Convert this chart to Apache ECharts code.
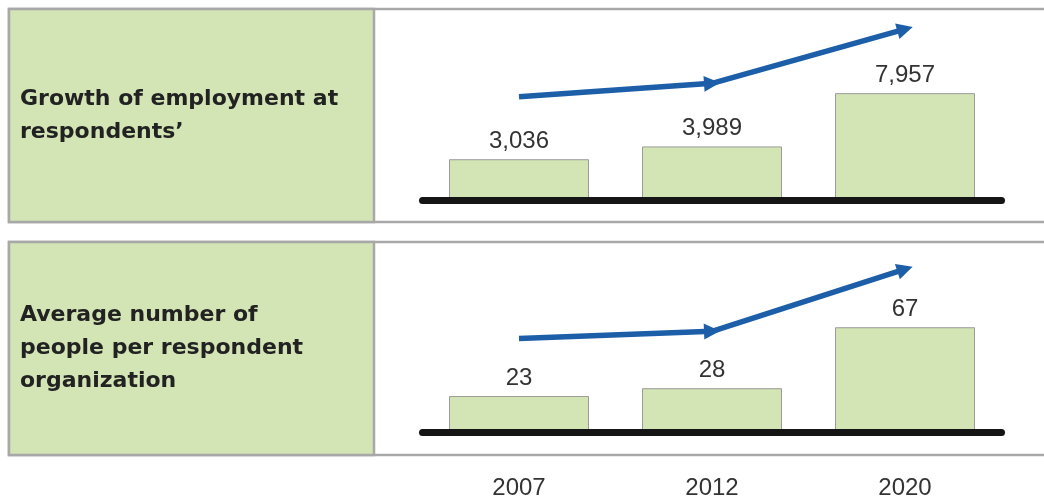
<!DOCTYPE html>
<html>
<head>
<meta charset="utf-8">
<script src="https://cdn.jsdelivr.net/npm/echarts@6/dist/echarts.min.js"></script>
<style>
  html, body { margin: 0; padding: 0; background: #fff; }
  #chart { width: 1044px; height: 500px; }
</style>
</head>
<body>
<div id="chart"></div>
<script>
const years = ['2007', '2012', '2020']
const employment = [3036, 3989, 7957]
const avgPeople = [23, 28, 67]
// trend arrow levels (in each panel's value units)
const employmentArrow = [7690, 8690, 12730]
const avgPeopleArrow = [59.8, 64.4, 104.1]
const panelTitles = [
  'Growth of employment at\nrespondents\u2019',
  'Average number of\npeople per respondent\norganization'
]

const green = '#d3e5b4'
const frame = '#a8a8a8'
const arrowBlue = '#1c5ea8'

const chart = echarts.init(document.getElementById('chart'))

const arrowLines = levels => [
  [{ coord: [years[0], levels[0]] }, { coord: [years[1], levels[1]] }],
  [{ coord: [years[1], levels[1]] }, { coord: [years[2], levels[2]] }]
]

const panel = (top, height, text) => ({
  type: 'group',
  children: [
    {
      type: 'rect',
      shape: { x: 9, y: top, width: 1050, height: height },
      style: { fill: '#fff', stroke: frame, lineWidth: 2.5 }
    },
    {
      type: 'rect',
      shape: { x: 9, y: top, width: 365, height: height },
      style: { fill: green, stroke: frame, lineWidth: 2.5 }
    },
    {
      type: 'text',
      x: 20,
      y: top + height / 2,
      style: {
        text: text,
        fill: '#222',
        font: 'bold 22px "DejaVu Sans"',
        lineHeight: 33,
        verticalAlign: 'middle'
      }
    }
  ]
})

const barSeries = (idx, data, arrows) => ({
  type: 'bar',
  xAxisIndex: idx,
  yAxisIndex: idx,
  data: data,
  barWidth: 140,
  itemStyle: { color: green, borderColor: '#9a9a9a', borderWidth: 1 },
  label: {
    show: true,
    position: 'top',
    distance: 6,
    fontFamily: '"Liberation Sans", Arial, sans-serif',
    fontSize: 24,
    color: '#333',
    formatter: p => echarts.format.addCommas(p.value)
  },
  markLine: {
    silent: true,
    symbol: ['none', 'triangle'],
    symbolSize: 16,
    label: { show: false },
    lineStyle: { type: 'solid', color: arrowBlue, width: 5.5 },
    emphasis: { disabled: true },
    data: arrowLines(arrows)
  }
})

const xAxisBase = (idx, showLabel) => ({
  type: 'category',
  gridIndex: idx,
  data: years,
  z: 5,
  axisTick: { show: false },
  axisLine: { lineStyle: { color: '#151515', width: 7, cap: 'round' } },
  axisLabel: {
    show: showLabel,
    margin: 44,
    fontFamily: '"Liberation Sans", Arial, sans-serif',
    fontSize: 24,
    color: '#333'
  }
})

chart.setOption({
  animation: false,
  graphic: [panel(9, 213, panelTitles[0]), panel(242, 213, panelTitles[1])],
  grid: [
    { left: 422.5, width: 579, top: 12, height: 188 },
    { left: 422.5, width: 579, top: 260, height: 173 }
  ],
  xAxis: [xAxisBase(0, false), xAxisBase(1, true)],
  yAxis: [
    { type: 'value', gridIndex: 0, min: 0, max: 14000, show: false },
    { type: 'value', gridIndex: 1, min: 0, max: 110, show: false }
  ],
  series: [
    barSeries(0, employment, employmentArrow),
    barSeries(1, avgPeople, avgPeopleArrow)
  ]
})
</script>
</body>
</html>
